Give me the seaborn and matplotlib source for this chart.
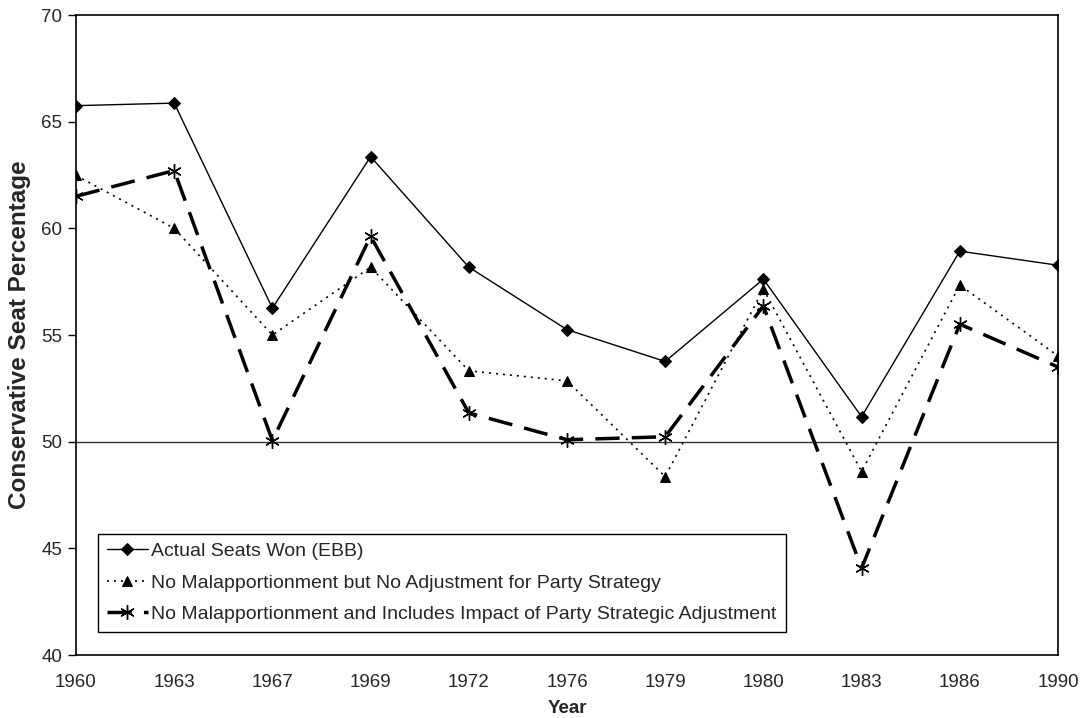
import matplotlib
matplotlib.use("Agg")
import matplotlib.pyplot as plt
import seaborn as sns
import numpy as np

years = ["1960", "1963", "1967", "1969", "1972", "1976", "1979", "1980", "1983", "1986", "1990"]
actual = [65.75, 65.87, 56.26, 63.36, 58.18, 55.25, 53.76, 57.62, 51.17, 58.93, 58.27]
no_mal = [62.48, 60.0, 55.0, 58.18, 53.32, 52.85, 48.36, 57.15, 48.6, 57.34, 54.02]
no_mal_strat = [61.5, 62.71, 50.05, 59.63, 51.35, 50.09, 50.23, 56.36, 44.07, 55.51, 53.5]
labels = ["Actual Seats Won (EBB)",
          "No Malapportionment but No Adjustment for Party Strategy",
          "No Malapportionment and Includes Impact of Party Strategic Adjustment"]

sns.set_theme(style="white")
plt.rcParams['font.family'] = ['Liberation Sans', 'DejaVu Sans']

fig = plt.figure(figsize=(10.84, 7.18), dpi=100)
ax = fig.add_axes([76/1084, 1-655/718, (1058-76)/1084, (655-15)/718])

pos = np.arange(len(years))
ax.axhline(50, color="#333333", lw=1.0, zorder=1)

sns.lineplot(x=pos, y=actual, ax=ax, color="black", lw=1.0, marker="D",
             markersize=6, markeredgecolor="black", label=labels[0], zorder=3)
sns.lineplot(x=pos, y=no_mal, ax=ax, color="black", lw=1.2, marker="^",
             markersize=7.5, markeredgecolor="black", label=labels[1], zorder=3,
             linestyle=(0, (1.2, 3.0)))
sns.lineplot(x=pos, y=no_mal_strat, ax=ax, color="black", lw=2.5, marker=(6, 2, 0),
             markersize=10.5, markeredgewidth=1.0, markeredgecolor="black", label=labels[2], zorder=3)
ax.lines[-1].set_linestyle((0, (7, 3.5)))

ax.set_xlim(0, len(years) - 1)
ax.set_ylim(40, 70)
ax.set_yticks([40, 45, 50, 55, 60, 65, 70])
ax.set_xticks(pos)
ax.set_xticklabels(years)
ax.tick_params(axis="y", which="both", left=True, length=6, width=1, color="black",
               labelsize=13.5, pad=4)
ax.tick_params(axis="x", bottom=False, labelsize=13.5, pad=8)
for s in ax.spines.values():
    s.set_color("black")
    s.set_linewidth(1.2)
ax.set_xlabel("Year", fontsize=13.5, fontweight="bold", labelpad=6)
ax.set_ylabel("Conservative Seat Percentage", fontsize=17.5, fontweight="bold")
ax.yaxis.set_label_coords(-0.046, 0.5)

leg = ax.legend(loc="lower left", bbox_to_anchor=(22/982, 23/640), fontsize=14,
                frameon=True, fancybox=False, edgecolor="black", framealpha=1,
                handlelength=2.1, handletextpad=0.2, labelspacing=0.72,
                borderpad=0.45, borderaxespad=0)
leg.get_frame().set_linewidth(1.0)

fig.savefig("out.png", dpi=100)
